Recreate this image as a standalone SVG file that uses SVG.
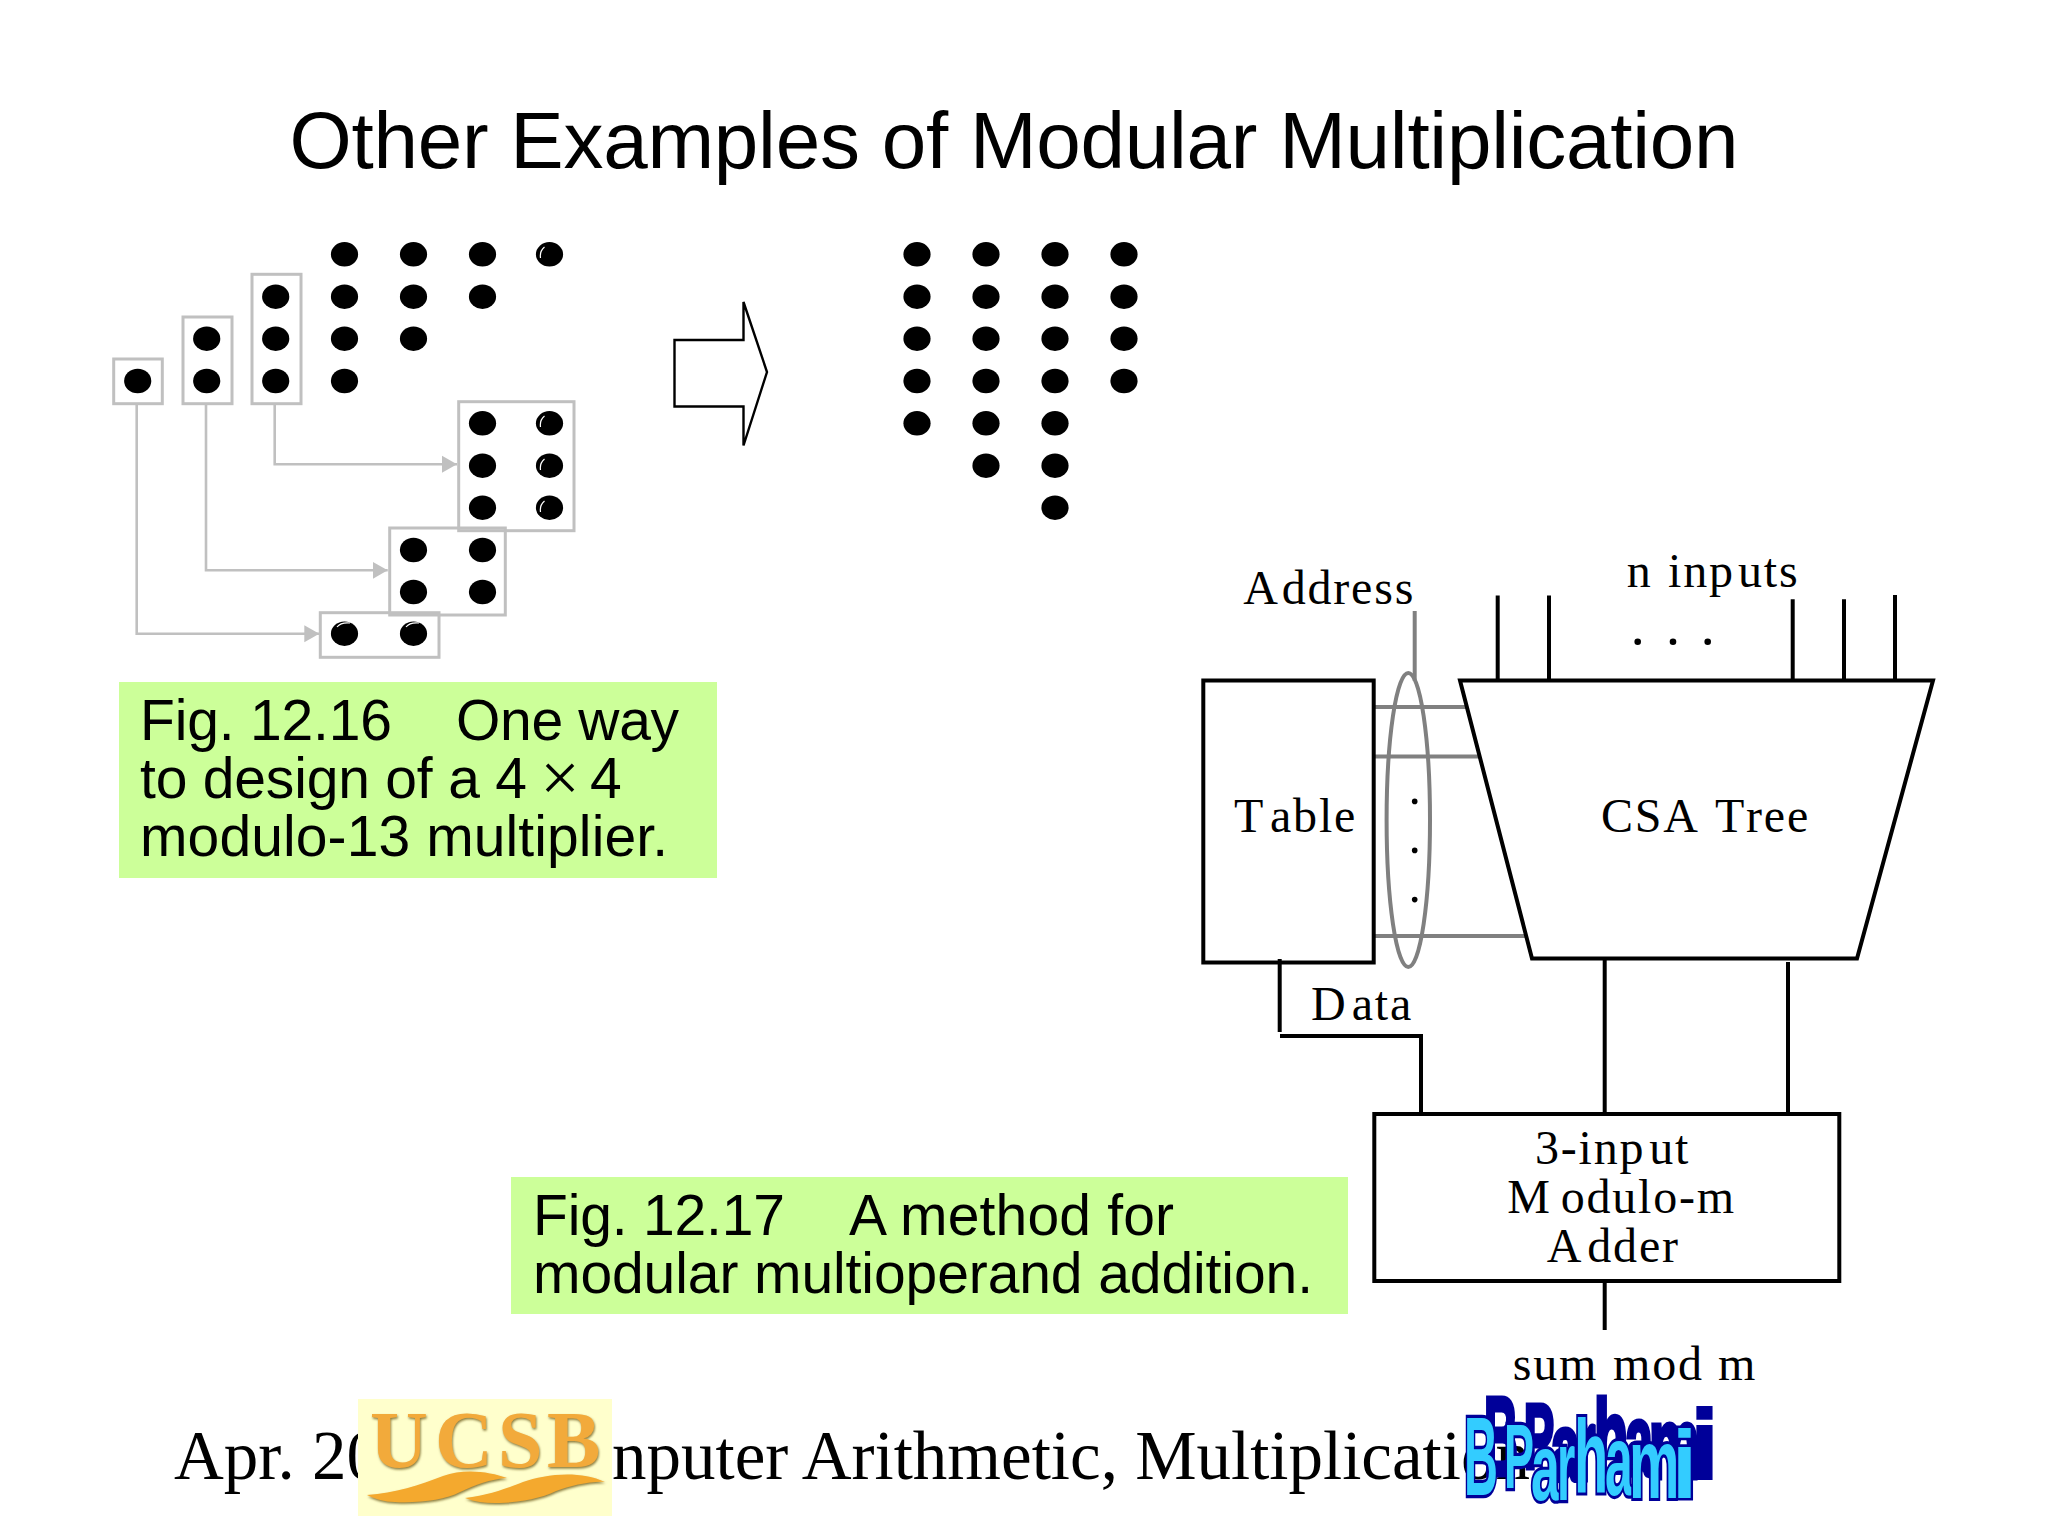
<svg xmlns="http://www.w3.org/2000/svg" width="2048" height="1536" viewBox="0 0 2048 1536">
<defs>
<marker id="arr" markerUnits="userSpaceOnUse" markerWidth="16" markerHeight="18" refX="15" refY="9" orient="auto"><path d="M0,0.5L15,9L0,17.5Z" fill="#c0c0c0"/></marker>
<ellipse id="d" rx="13.6" ry="12.2" fill="#000"/>
<filter id="soft" x="-5%" y="-10%" width="110%" height="125%"><feDropShadow dx="0.8" dy="1.6" stdDeviation="0.9" flood-color="#8a7a3a"/></filter>
</defs>
<style>
.sans{font-family:"Liberation Sans",Arial,sans-serif;fill:#000}
.serif{font-family:"Liberation Serif","Times New Roman",serif;fill:#000}
.lab{font-size:48px;letter-spacing:1.8px}
.cap{font-size:57px}
.gbox{fill:none;stroke:#c0c0c0;stroke-width:3}
.gline{fill:none;stroke:#c0c0c0;stroke-width:2.6}
.k{fill:none;stroke:#000;stroke-width:4}
.g{fill:none;stroke:#808080;stroke-width:4}
.hl{fill:none;stroke:#fff;stroke-width:1.2}
.wa{font-family:"Liberation Sans",Arial,sans-serif;font-weight:bold;font-size:100px}
.wf{fill:#33ccff;stroke:#000099;stroke-width:5;paint-order:stroke}
.wf text,.ws text{vector-effect:non-scaling-stroke}
.ws{fill:#000099;stroke:#000099;stroke-width:4}
</style>
<rect width="2048" height="1536" fill="#fff"/>
<text id="title" class="sans" x="289.5" y="167.5" font-size="80" textLength="1449">Other Examples of Modular Multiplication</text>

<g id="left-dots">
<use href="#d" x="344.5" y="254.3"/><use href="#d" x="413.5" y="254.3"/><use href="#d" x="482.5" y="254.3"/><use href="#d" x="549.5" y="254.3"/>
<use href="#d" x="275.7" y="296.7"/><use href="#d" x="344.5" y="296.7"/><use href="#d" x="413.5" y="296.7"/><use href="#d" x="482.5" y="296.7"/>
<use href="#d" x="206.7" y="338.7"/><use href="#d" x="275.7" y="338.7"/><use href="#d" x="344.5" y="338.7"/><use href="#d" x="413.5" y="338.7"/>
<use href="#d" x="137.7" y="381"/><use href="#d" x="206.7" y="381"/><use href="#d" x="275.7" y="381"/><use href="#d" x="344.5" y="381"/>
<use href="#d" x="482.5" y="423.3"/><use href="#d" x="549.5" y="423.3"/>
<use href="#d" x="482.5" y="465.7"/><use href="#d" x="549.5" y="465.7"/>
<use href="#d" x="482.5" y="507.7"/><use href="#d" x="549.5" y="507.7"/>
<use href="#d" x="413.5" y="550"/><use href="#d" x="482.5" y="550"/>
<use href="#d" x="413.5" y="592"/><use href="#d" x="482.5" y="592"/>
<use href="#d" x="344.5" y="633.7"/><use href="#d" x="413.5" y="633.7"/>
<path class="hl" d="M540.5,258Q539.5,251 544.5,247M540.5,427Q539.5,420 544.5,416M540.5,470Q539.5,463 544.5,459M540.5,512Q539.5,505 544.5,501M337,627Q341,622 350,623M406,627Q410,622 419,623"/>
</g>
<g id="left-boxes">
<rect class="gbox" x="113.7" y="359" width="48.6" height="44.7"/>
<rect class="gbox" x="183" y="317" width="49" height="86.7"/>
<rect class="gbox" x="252" y="274.3" width="49" height="129.4"/>
<rect class="gbox" x="458.7" y="401.7" width="115.3" height="129"/>
<rect class="gbox" x="389.7" y="528" width="115.6" height="87"/>
<rect class="gbox" x="320.3" y="612.7" width="118.7" height="44.6"/>
</g>
<g id="left-connectors">
<path class="gline" marker-end="url(#arr)" d="M274.7,403V464.3H457"/>
<path class="gline" marker-end="url(#arr)" d="M206,403V570.3H387.7"/>
<path class="gline" marker-end="url(#arr)" d="M136.7,403V633.7H319.3"/>
</g>
<g id="big-arrow"><path d="M674.5,340H743.5V302L767,372L743.5,445.5V406.5H674.5Z" fill="#fff" stroke="#000" stroke-width="2.4"/></g>
<g id="right-dots">
<use href="#d" x="917" y="254.3"/><use href="#d" x="986" y="254.3"/><use href="#d" x="1055" y="254.3"/><use href="#d" x="1124" y="254.3"/>
<use href="#d" x="917" y="296.7"/><use href="#d" x="986" y="296.7"/><use href="#d" x="1055" y="296.7"/><use href="#d" x="1124" y="296.7"/>
<use href="#d" x="917" y="338.7"/><use href="#d" x="986" y="338.7"/><use href="#d" x="1055" y="338.7"/><use href="#d" x="1124" y="338.7"/>
<use href="#d" x="917" y="381"/><use href="#d" x="986" y="381"/><use href="#d" x="1055" y="381"/><use href="#d" x="1124" y="381"/>
<use href="#d" x="917" y="423.3"/><use href="#d" x="986" y="423.3"/><use href="#d" x="1055" y="423.3"/>
<use href="#d" x="986" y="465.7"/><use href="#d" x="1055" y="465.7"/>
<use href="#d" x="1055" y="507.7"/>
</g>
<g id="fig1216">
<rect x="119" y="682" width="598" height="196" fill="#ccff99"/>
<text class="sans cap" x="140" y="740" textLength="252">Fig. 12.16</text><text class="sans cap" x="456" y="740" textLength="223">One way</text>
<text class="sans cap" x="140" y="798" textLength="387">to design of a 4</text>
<text class="serif" font-size="70" x="560" y="801" text-anchor="middle">×</text>
<text class="sans cap" x="590" y="798">4</text>
<text class="sans cap" x="140" y="856" textLength="528">modulo-13 multiplier.</text>
</g>
<g id="fig1217">
<rect x="511" y="1177" width="837" height="137" fill="#ccff99"/>
<text class="sans cap" x="533" y="1235" textLength="252">Fig. 12.17</text><text class="sans cap" x="849" y="1235" textLength="325">A method for</text>
<text class="sans cap" x="533" y="1293" textLength="780">modular multioperand addition.</text>
</g>

<g id="connectors">
<path class="g" d="M1375,707H1466M1375,756.5H1480M1375,936H1526M1414.7,611V681"/>
<ellipse class="g" cx="1408.3" cy="820" rx="21.7" ry="147"/>
<path class="k" d="M1497.7,595.4V680.5M1549,595.4V680.5M1792.7,599.3V680.5M1844,599.3V680.5M1895,595V680.5"/>
<path class="k" d="M1279.7,959V1032M1280,1036H1421V1114M1604.7,958V1114M1788,962V1114M1604.7,1281V1330"/>
</g>
<g id="bus-dots" fill="#000">
<circle cx="1414.7" cy="801.4" r="2.8"/><circle cx="1414.7" cy="850.4" r="2.8"/><circle cx="1414.7" cy="899.6" r="2.8"/>
<circle cx="1637.7" cy="641.7" r="3.3"/><circle cx="1673" cy="641.7" r="3.3"/><circle cx="1707.7" cy="641.7" r="3.3"/>
</g>
<g id="table"><rect class="k" x="1203.3" y="680.5" width="170.4" height="282"/><text class="serif lab" y="832"><tspan x="1234">T</tspan><tspan x="1270">able</tspan></text></g>
<g id="csa"><path class="k" d="M1460,680.5H1933L1857,958.5H1532Z"/><text class="serif lab" y="832"><tspan x="1601">CSA</tspan><tspan x="1715">T</tspan><tspan x="1746">ree</tspan></text></g>
<g id="adder"><rect class="k" x="1374.3" y="1114" width="465" height="167"/>
<text class="serif lab" y="1163.5"><tspan x="1535">3-inp</tspan><tspan x="1649.3">ut</tspan></text>
<text class="serif lab" y="1212.5"><tspan x="1507.3">M</tspan><tspan x="1560.7">odulo-m</tspan></text>
<text class="serif lab" y="1261.7"><tspan x="1546.7">A</tspan><tspan x="1587.3">dder</tspan></text></g>
<g id="labels">
<text class="serif lab" y="603.5"><tspan x="1243.3">A</tspan><tspan x="1281.7">ddress</tspan></text>
<text class="serif lab" y="586.7"><tspan x="1626.7">n</tspan><tspan x="1668">inp</tspan><tspan x="1738">uts</tspan></text>
<text class="serif lab" y="1020"><tspan x="1311">D</tspan><tspan x="1351.7">ata</tspan></text>
<text class="serif lab" y="1380"><tspan x="1512.7">sum</tspan><tspan x="1613">mod</tspan><tspan x="1718">m</tspan></text>
</g>
<g id="footer">
<text class="serif" font-size="69" x="174" y="1479">Apr. 20</text>
<text class="serif" font-size="69" x="612" y="1479">nputer Arithmetic, Multiplication</text>
</g>
<g id="ucsb">
<rect x="358" y="1399" width="254" height="117" fill="#ffffcc"/>
<text y="1467" x="370 435 498 547" font-family="Liberation Serif,serif" font-weight="bold" font-size="80" fill="#f2aa3a" filter="url(#soft)">UCSB</text>
<g fill="#f4a92e" filter="url(#soft)">
<path d="M367,1495C395,1493 420,1485 443,1476C465,1468 490,1472 507,1478C490,1479 475,1485 460,1492C445,1500 420,1503 395,1502C385,1502 375,1499 367,1495Z"/>
<path d="M465,1498C490,1495 510,1487 523,1482C545,1474 580,1470 605,1482C590,1481 570,1486 556,1491C540,1499 515,1503 495,1503C485,1503 475,1502 465,1498Z"/>
</g>
</g>
<g id="wordart">
<g class="wa ws">
<text transform="translate(1484,1475) scale(.47,1.12)">B</text><text transform="translate(1524,1468) scale(.45,.91)">P</text><text transform="translate(1551,1480) scale(.52,.95)">a</text><text transform="translate(1577,1480) scale(.47,1)">r</text><text transform="translate(1594,1472) scale(.56,1.03)">h</text><text transform="translate(1625,1475) scale(.5,1)">a</text><text transform="translate(1649,1478) scale(.57,1)">m</text><text transform="translate(1692,1478) scale(.9,.97)">i</text>
</g>
<g class="wa wf">
<text transform="translate(1464,1495) scale(.47,1.12)">B</text><text transform="translate(1504,1488) scale(.45,.91)">P</text><text transform="translate(1531,1500) scale(.52,.95)">a</text><text transform="translate(1557,1500) scale(.47,1)">r</text><text transform="translate(1574,1492) scale(.56,1.03)">h</text><text transform="translate(1605,1495) scale(.5,1)">a</text><text transform="translate(1629,1498) scale(.57,1)">m</text><text transform="translate(1672,1498) scale(.9,.97)">i</text>
</g>
</g>
</svg>
